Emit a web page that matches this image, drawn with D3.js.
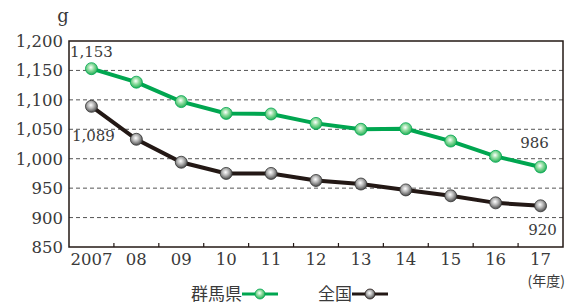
<!DOCTYPE html>
<html>
<head>
<meta charset="utf-8">
<script src="https://cdn.jsdelivr.net/npm/d3@7"></script>
<style>
  body { margin: 0; background: #fff; }
  text { font-family: "DejaVu Serif", "Liberation Serif", serif; fill: #3a3a3a; }
  .cjk { font-family: "Noto Sans CJK JP", sans-serif; }
</style>
</head>
<body>
<div id="chart"></div>
<script>
const years = ["2007", "08", "09", "10", "11", "12", "13", "14", "15", "16", "17"];
const gunma = [1153, 1130, 1097, 1077, 1076, 1060, 1050, 1051, 1030, 1004, 986];
const national = [1089, 1033, 994, 975, 975, 963, 957, 947, 937, 925, 920];
const yTicks = [850, 900, 950, 1000, 1050, 1100, 1150, 1200];

const width = 573, height = 304;
const margin = { top: 41, right: 10, bottom: 57, left: 69 };
const w = width - margin.left - margin.right;
const h = height - margin.top - margin.bottom;

const svg = d3.select("#chart").append("svg")
  .attr("width", width).attr("height", height);

// gradients for the markers
const defs = svg.append("defs");
const grad = (id, light, dark) => {
  const g = defs.append("radialGradient").attr("id", id)
    .attr("cx", "45%").attr("cy", "40%").attr("r", "60%");
  g.append("stop").attr("offset", "0%").attr("stop-color", "#fff");
  g.append("stop").attr("offset", "45%").attr("stop-color", light);
  g.append("stop").attr("offset", "100%").attr("stop-color", dark);
};
grad("gGreen", "#8fdc9f", "#1fae55");
grad("gGrey", "#b5b5b5", "#4a4a4a");

const g = svg.append("g").attr("transform", `translate(${margin.left},${margin.top})`);

const x = d3.scaleBand().domain(years).range([0, w]);
const y = d3.scaleLinear().domain([850, 1200]).range([h, 0]);
const cx = (d, i) => x(years[i]) + x.bandwidth() / 2;

// grid
g.append("g").selectAll("line")
  .data(yTicks.filter(t => t > 850 && t < 1200))
  .join("line")
  .attr("x1", 0).attr("x2", w)
  .attr("y1", d => y(d)).attr("y2", d => y(d))
  .attr("stroke", "#555").attr("stroke-width", 1)
  .attr("stroke-dasharray", "4,3");

// frame
g.append("rect").attr("width", w).attr("height", h)
  .attr("fill", "none").attr("stroke", "#231815").attr("stroke-width", 1.5);

// x ticks (band boundaries)
g.append("g").selectAll("line")
  .data(years.slice(1))
  .join("line")
  .attr("x1", d => x(d)).attr("x2", d => x(d))
  .attr("y1", h).attr("y2", h - 4)
  .attr("stroke", "#231815").attr("stroke-width", 1.2);

// y labels
g.append("g").selectAll("text")
  .data(yTicks).join("text")
  .attr("x", -6).attr("y", d => y(d) + 6)
  .attr("text-anchor", "end")
  .style("font-size", "16.5px")
  .text(d => d3.format(",")(d));

// x labels
g.append("g").selectAll("text")
  .data(years).join("text")
  .attr("x", (d, i) => cx(d, i)).attr("y", h + 18)
  .attr("text-anchor", "middle")
  .style("font-size", "16.5px")
  .text(d => d);

g.append("text").attr("x", -6).attr("y", -19)
  .attr("text-anchor", "middle").style("font-size", "18px").text("g");
g.append("text").attr("class", "cjk").attr("x", w + 2).attr("y", h + 39)
  .attr("text-anchor", "end").style("font-size", "14px").text("(年度)");

const line = d3.line().x(cx).y(d => y(d));

g.append("path").datum(national).attr("d", line)
  .attr("fill", "none").attr("stroke", "#231815").attr("stroke-width", 4);
g.append("path").datum(gunma).attr("d", line)
  .attr("fill", "none").attr("stroke", "#00a650").attr("stroke-width", 4);

g.append("g").selectAll("circle").data(national).join("circle")
  .attr("cx", cx).attr("cy", d => y(d)).attr("r", 6)
  .attr("fill", "url(#gGrey)").attr("stroke", "#333").attr("stroke-width", 0.8);
g.append("g").selectAll("circle").data(gunma).join("circle")
  .attr("cx", cx).attr("cy", d => y(d)).attr("r", 6)
  .attr("fill", "url(#gGreen)").attr("stroke", "#00a650").attr("stroke-width", 0.8);

// value labels
const last = years.length - 1;
const lab = (txt, xx, yy, anchor) => g.append("text")
  .attr("x", xx).attr("y", yy).attr("text-anchor", anchor)
  .style("font-size", "15px").text(txt);
lab(d3.format(",")(gunma[0]), cx(0, 0), y(gunma[0]) - 12, "middle");
lab(d3.format(",")(national[0]), cx(0, 0) + 2, y(national[0]) + 35, "middle");
lab(gunma[last], cx(0, last) - 6, y(gunma[last]) - 19, "middle");
lab(national[last], cx(0, last) + 2, y(national[last]) + 29, "middle");

// legend
const leg = svg.append("g");
const items = [
  { name: "群馬県", tx: 242, x1: 242, x2: 278, stroke: "#00a650", fill: "url(#gGreen)" },
  { name: "全国", tx: 352, x1: 352, x2: 388, stroke: "#231815", fill: "url(#gGrey)" }
];
items.forEach(it => {
  leg.append("text").attr("class", "cjk").attr("x", it.tx).attr("y", 300).attr("text-anchor", "end")
    .style("font-size", "17px").text(it.name);
  leg.append("line").attr("x1", it.x1).attr("x2", it.x2).attr("y1", 294).attr("y2", 294)
    .attr("stroke", it.stroke).attr("stroke-width", 3);
  leg.append("circle").attr("cx", (it.x1 + it.x2) / 2).attr("cy", 294).attr("r", 5)
    .attr("fill", it.fill).attr("stroke", it.stroke).attr("stroke-width", 0.8);
});
</script>
</body>
</html>
